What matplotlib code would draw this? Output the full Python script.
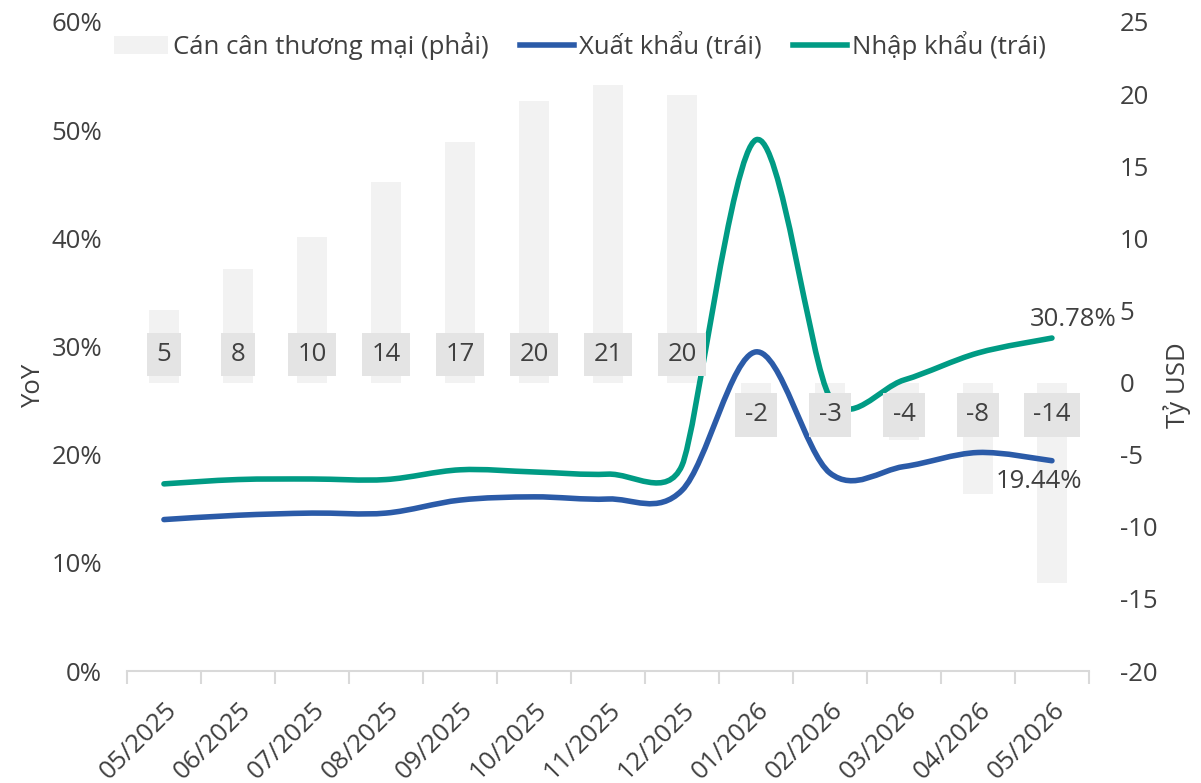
import numpy as np
import matplotlib
matplotlib.use('Agg')
import matplotlib.pyplot as plt
from matplotlib.path import Path
from matplotlib.patches import PathPatch, Patch
from matplotlib.lines import Line2D

plt.rcParams['font.family'] = ['Open Sans', 'Noto Sans', 'DejaVu Sans']
plt.rcParams['axes.unicode_minus'] = False

months = ['05/2025', '06/2025', '07/2025', '08/2025', '09/2025', '10/2025', '11/2025',
          '12/2025', '01/2026', '02/2026', '03/2026', '04/2026', '05/2026']
balance = [5.0, 7.9, 10.1, 13.9, 16.7, 19.5, 20.6, 19.9, -2.0, -3.0, -4.0, -7.7, -13.9]
export_yoy = [14.0, 14.4, 14.6, 14.6, 15.8, 16.1, 15.9, 16.7, 29.5, 18.3, 18.9, 20.2, 19.44]
import_yoy = [17.3, 17.7, 17.75, 17.7, 18.6, 18.4, 18.2, 19.0, 49.1, 25.3, 26.9, 29.4, 30.78]

BLUE = '#2b5ba8'
TEAL = '#009b84'
TXT = '#404040'
FS = 18.5


def smooth_path(ax, xs, ys):
    # excel-style smoothing: bezier through the points, handles capped by half the neighbour segment
    pts = ax.transData.transform(np.column_stack([xs, ys]).astype(float))
    n = len(pts)
    out_c, in_c = [], []
    for i in range(n):
        p0 = pts[max(i - 1, 0)]
        p2 = pts[min(i + 1, n - 1)]
        d = p2 - p0
        nd = np.hypot(*d)
        u = d / nd if nd > 0 else d
        seg_prev = np.hypot(*(pts[i] - p0))
        seg_next = np.hypot(*(p2 - pts[i]))
        L = nd / 6
        out_c.append(pts[i] + u * min(L, seg_next / 2, seg_prev / 2 if i > 0 else L))
        in_c.append(pts[i] - u * min(L, seg_prev / 2, seg_next / 2 if i < n - 1 else L))
    verts = [pts[0]]
    codes = [Path.MOVETO]
    for i in range(n - 1):
        verts += [out_c[i], in_c[i + 1], pts[i + 1]]
        codes += [Path.CURVE4] * 3
    verts = ax.transData.inverted().transform(np.array(verts))
    return Path(verts, codes)


fig = plt.figure(figsize=(12.01, 7.83), dpi=100)
ax = fig.add_axes([0.1057, 0.143, 0.801, 0.829])
ax2 = ax.twinx()
ax.set_zorder(ax2.get_zorder() + 1)
ax.patch.set_visible(False)

x = np.arange(len(months))
ax2.bar(x, balance, width=0.4, color='#f2f2f2', zorder=1)
ax2.set_ylim(-20, 25)
ax2.set_yticks(range(-20, 26, 5))

ax.set_xlim(-0.5, len(months) - 0.5)
ax.set_ylim(0, 60)
ax.set_yticks(range(0, 61, 10))
ax.set_yticklabels([f'{v}%' for v in range(0, 61, 10)])

for yvals, col in [(export_yoy, BLUE), (import_yoy, TEAL)]:
    ax.add_patch(PathPatch(smooth_path(ax, x, yvals), fill=False, edgecolor=col,
                           lw=4, capstyle='round', joinstyle='round', zorder=3))

# value labels for the trade balance
for i, v in enumerate(balance):
    ypos = 1.95 if v > 0 else -2.25
    ax.text(i, ypos, f'{v:.0f}', transform=ax2.transData, ha='center', va='center',
            fontsize=FS, color=TXT, zorder=6,
            bbox=dict(boxstyle='square,pad=0.36', fc='#e4e4e4', ec='none'))

ax.annotate(f'{import_yoy[-1]:.2f}%', (x[-1], import_yoy[-1]), xytext=(15, 13),
            textcoords='offset points', ha='center', va='center', fontsize=FS, color=TXT, zorder=6)
ax.annotate(f'{export_yoy[-1]:.2f}%', (x[-1], export_yoy[-1]), xytext=(-9, -15),
            textcoords='offset points', ha='center', va='center', fontsize=FS, color=TXT, zorder=6)

ax.set_xticks(np.arange(len(months) + 1) - 0.5, minor=False)
ax.set_xticklabels([])
ax.set_xticks(x, minor=True)
ax.set_xticklabels(months, minor=True, rotation=45, ha='right', rotation_mode='anchor')
ax.tick_params(axis='x', which='major', length=9, color='#d9d9d9', width=1.5)
ax.tick_params(axis='x', which='minor', length=0, pad=19, labelsize=FS, labelcolor=TXT)
ax.tick_params(axis='y', length=0, labelsize=FS, labelcolor=TXT, pad=18)
ax2.tick_params(axis='y', length=0, labelsize=FS, labelcolor=TXT, pad=22)

for a in (ax, ax2):
    for s in ('top', 'left', 'right'):
        a.spines[s].set_visible(False)
ax.spines['bottom'].set_color('#d9d9d9')
ax.spines['bottom'].set_linewidth(1.5)
ax2.spines['bottom'].set_visible(False)

ax.set_ylabel('YoY', fontsize=FS, color=TXT)
ax.yaxis.set_label_coords(-0.084, 0.44)
ax2.set_ylabel('Tỷ USD', fontsize=FS, color=TXT, rotation=90)
ax2.yaxis.set_label_coords(1.077, 0.44)

handles = [Patch(fc='#f2f2f2', ec='none'), Line2D([], [], color=BLUE, lw=4),
           Line2D([], [], color=TEAL, lw=4)]
labels = ['Cán cân thương mại (phải)', 'Xuất khẩu (trái)', 'Nhập khẩu (trái)']
ax.legend(handles, labels, loc='center', bbox_to_anchor=(0.471, 0.964), ncol=3, frameon=False,
          fontsize=FS, labelcolor=TXT, handlelength=2.1, handletextpad=0.2, columnspacing=1.2)

fig.savefig('out.png', dpi=100)
